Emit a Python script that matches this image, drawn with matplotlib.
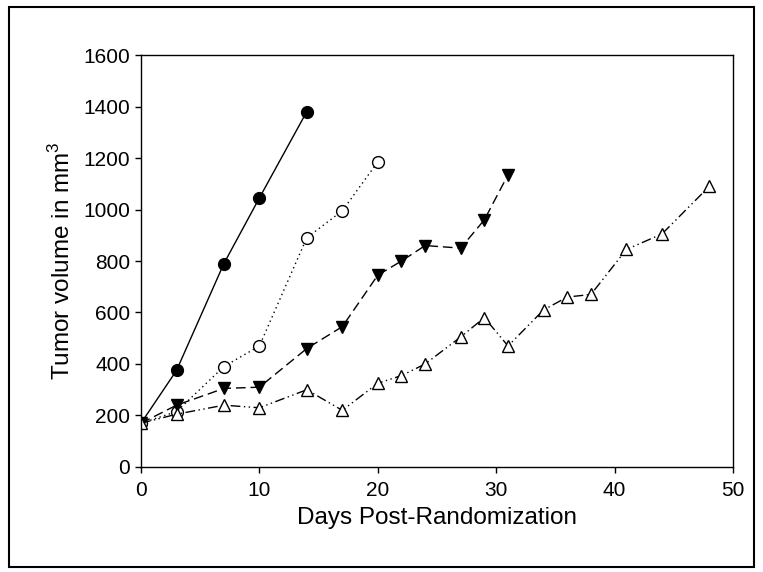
import matplotlib
matplotlib.use("Agg")
import matplotlib.pyplot as plt
from matplotlib.patches import Rectangle

plt.rcParams['font.family'] = ['Liberation Sans', 'DejaVu Sans']
plt.rcParams['mathtext.fontset'] = 'custom'
plt.rcParams['mathtext.rm'] = 'Liberation Sans'

# dados
dias_a = [0, 3, 7, 10, 14]
vol_a = [170, 375, 790, 1045, 1380]

dias_b = [0, 3, 7, 10, 14, 17, 20]
vol_b = [170, 215, 390, 470, 890, 995, 1185]

dias_c = [0, 3, 7, 10, 14, 17, 20, 22, 24, 27, 29, 31]
vol_c = [170, 240, 305, 310, 460, 545, 745, 800, 860, 850, 960, 1135]

dias_d = [0, 3, 7, 10, 14, 17, 20, 22, 24, 27, 29, 31, 34, 36, 38, 41, 44, 48]
vol_d = [170, 205, 240, 230, 300, 220, 325, 355, 400, 505, 580, 470,
         610, 660, 670, 845, 905, 1090]

fig = plt.figure(figsize=(7.63, 5.72), dpi=100)
ax = fig.add_axes([0.1848, 0.1836, 0.7759, 0.7202])

ax.plot(dias_a, vol_a, '-', color='black', lw=1.0, marker='o', ms=8.5,
        mfc='black', mec='black')
ax.plot(dias_b, vol_b, color='black', lw=1.0, ls=(0, (1, 2.5)), marker='o',
        ms=8.5, mfc='white', mec='black', mew=1.0)
ax.plot(dias_c, vol_c, color='black', lw=1.0, ls=(0, (7, 3.5)), marker='v',
        ms=8.5, mfc='black', mec='black')
ax.plot(dias_d, vol_d, color='black', lw=1.0, ls=(0, (7, 2.5, 1, 2.5, 1, 2.5)),
        marker='^', ms=8.5, mfc='white', mec='black', mew=1.0)

ax.set_xlim(0, 50)
ax.set_ylim(0, 1600)
ax.set_xticks([0, 10, 20, 30, 40, 50])
ax.set_yticks(range(0, 1601, 200))
ax.tick_params(direction='out', length=4.2, width=1, labelsize=15,
               top=False, right=False)
ax.tick_params(axis='x', pad=6)
ax.tick_params(axis='y', pad=3.5)
for s in ax.spines.values():
    s.set_linewidth(1.0)

ax.set_xlabel('Days Post-Randomization', fontsize=17.5, labelpad=5)
ax.set_ylabel(r'Tumor volume in mm$^{\mathregular{3}}$', fontsize=17.5, labelpad=6)

# moldura em volta da figura
fig.patches.append(Rectangle((0.012, 0.008), 0.976, 0.98, transform=fig.transFigure,
                             fill=False, edgecolor='black', lw=1.5))

fig.savefig('out.png', dpi=100)
